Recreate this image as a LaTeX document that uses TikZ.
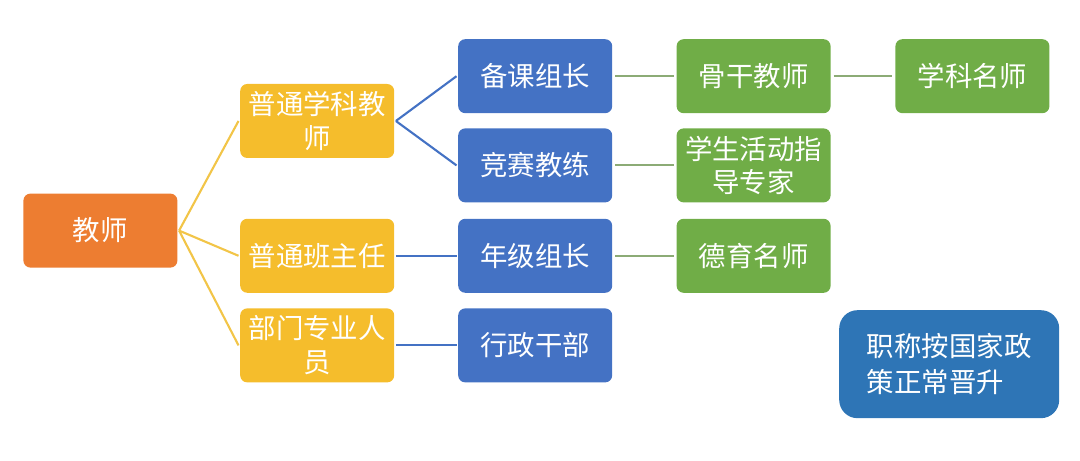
\documentclass[tikz,border=0pt]{standalone}
\usepackage{fontspec}
\newfontfamily\cjk{Noto Sans CJK SC}
\definecolor{rootorange}{HTML}{ED7D31}
\definecolor{boxyellow}{HTML}{F5BD2C}
\definecolor{boxblue}{HTML}{4472C4}
\definecolor{boxgreen}{HTML}{70AD47}
\definecolor{noteblue}{HTML}{2E75B6}
\definecolor{lineyellow}{HTML}{F2C548}
\definecolor{linegreen}{HTML}{8CAB76}
\begin{document}
\begin{tikzpicture}[
        every node/.style={font=\cjk\fontsize{19.5}{24}\selectfont, text=white},
        card/.style={rounded corners=5pt, minimum width=3.85cm, minimum height=1.85cm, align=center, inner sep=0pt},
        tie/.style={line width=1.5pt}
    ]
        \useasboundingbox (0,0) rectangle (27,11.525);
        % level 0 and 1
        \node[card, fill=rootorange] (root) at (2.51,5.76) {教师};
        \node[card, fill=boxyellow]  (subj) at (7.93,8.50) {普通学科教\\师};
        \node[card, fill=boxyellow]  (head) at (7.93,5.13) {普通班主任};
        \node[card, fill=boxyellow]  (dept) at (7.93,2.89) {部门专业人\\员};
        % level 2
        \node[card, fill=boxblue] (prep)  at (13.38,9.62) {备课组长};
        \node[card, fill=boxblue] (coach) at (13.38,7.39) {竞赛教练};
        \node[card, fill=boxblue] (grade) at (13.38,5.13) {年级组长};
        \node[card, fill=boxblue] (admin) at (13.38,2.89) {行政干部};
        % level 3 and 4
        \node[card, fill=boxgreen] (core)   at (18.84,9.62) {骨干教师};
        \node[card, fill=boxgreen] (expert) at (18.84,7.39) {学生活动指\\导专家};
        \node[card, fill=boxgreen] (moral)  at (18.84,5.13) {德育名师};
        \node[card, fill=boxgreen] (famous) at (24.31,9.62) {学科名师};
        % title note
        \node[fill=noteblue, rounded corners=13pt, minimum width=5.5cm, minimum height=2.7cm,
              align=left, inner sep=0pt, font=\cjk\fontsize{19.5}{25.5}\selectfont]
              (note) at (23.73,2.42) {职称按国家政\\策正常晋升};

        \foreach \kid in {subj, head, dept} {
            \draw[tie, lineyellow] ([xshift=1pt]root.east) -- ([xshift=-1pt]\kid.west);
        }
        \foreach \from/\to in {subj/prep, subj/coach, head/grade, dept/admin} {
            \draw[tie, boxblue] ([xshift=1pt]\from.east) -- ([xshift=-1pt]\to.west);
        }
        \foreach \from/\to in {prep/core, core/famous, coach/expert, grade/moral} {
            \draw[tie, linegreen] ([xshift=2pt]\from.east) -- ([xshift=-2pt]\to.west);
        }
    \end{tikzpicture}
\end{document}
